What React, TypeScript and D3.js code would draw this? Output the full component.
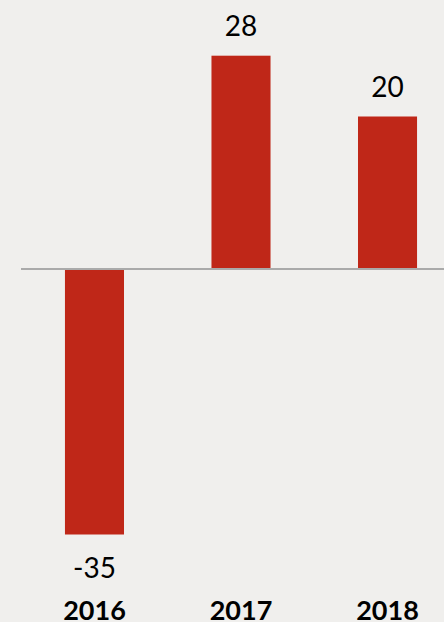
import * as d3 from "d3";
import { useEffect } from "react";

const years = ["2016", "2017", "2018"];
const values = [-35, 28, 20];

export default function App() {
  const width = 444;
  const height = 622;
  const fontFamily = "Lato, 'Open Sans', sans-serif";

  useEffect(() => {
    document.body.style.margin = "0";
    document.body.style.background = "#f0efed";
  }, []);

  const x = d3
    .scaleBand<string>()
    .domain(years)
    .range([21, 461])
    .paddingInner(0.597)
    .paddingOuter(0.3);

  // zero sits around y=268.5, ~7.6px per unit
  const y = d3.scaleLinear().domain([-40, 30]).range([572.5, 40.5]);

  const bars = years.map((yr, i) => {
    const v = values[i];
    const x0 = x(yr) ?? 0;
    const top = v >= 0 ? y(v) : y(0);
    const h = Math.abs(y(v) - y(0));
    const cx = x0 + x.bandwidth() / 2;
    return (
      <g key={yr}>
        <rect x={x0} y={top} width={x.bandwidth()} height={h} fill="#bf2718" />
        <text
          x={cx}
          y={v >= 0 ? y(v) - 20 : y(v) + 43}
          textAnchor="middle"
          fontSize={28}
          fontFamily={fontFamily}
          fill="#000"
        >
          {v}
        </text>
        <text
          x={cx}
          y={620}
          textAnchor="middle"
          fontSize={27}
          fontWeight="bold"
          fontFamily={fontFamily}
          fill="#000"
        >
          {yr}
        </text>
      </g>
    );
  });

  return (
    <svg
      width={width}
      height={height}
      viewBox={`0 0 ${width} ${height}`}
      style={{ display: "block", background: "#f0efed" }}
    >
      {bars}
      <line
        x1={21}
        x2={width}
        y1={y(0) + 0.5}
        y2={y(0) + 0.5}
        stroke="#aaaaaa"
        strokeWidth={2}
      />
    </svg>
  );
}
